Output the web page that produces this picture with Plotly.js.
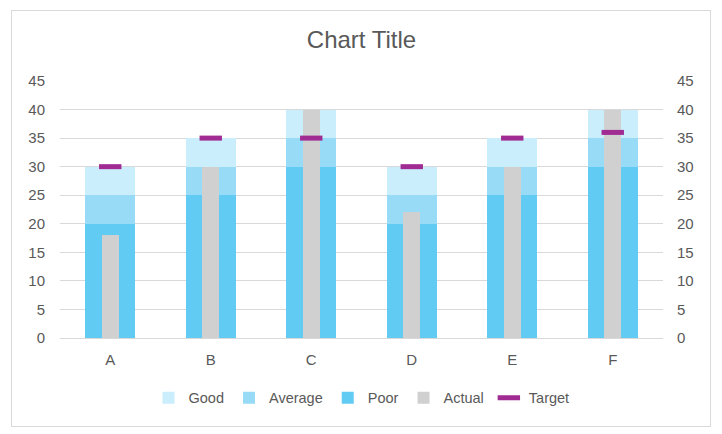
<!DOCTYPE html>
<html><head><meta charset="utf-8">
<script src="https://cdn.plot.ly/plotly-3.0.1.min.js"></script>
<style>
html,body{margin:0;padding:0;background:#fff;}
#wrap{position:relative;width:722px;height:434px;}
#chart{width:722px;height:434px;}
#frame{position:absolute;left:11px;top:10px;width:698px;height:415px;border:1px solid #D9D9D9;pointer-events:none;}
</style></head>
<body>
<div id="wrap"><div id="chart"></div><div id="frame"></div></div>
<script>
const categories = ['A','B','C','D','E','F'];
const poor    = [20, 25, 30, 20, 25, 30];
const average = [5, 5, 5, 5, 5, 5];
const good    = [5, 5, 5, 5, 5, 5];
const actual  = [18, 30, 40, 22, 30, 40];
const target  = [30, 35, 35, 30, 35, 36];

const ff = 'Liberation Sans, Arial, sans-serif';
const font = {family:ff, color:'#595959', size:15};

const traces = [
  {type:'bar', name:'Poor', x:categories, y:poor, marker:{color:'#61CBF3'}, width:0.5, legendrank:3, xaxis:'x', yaxis:'y'},
  {type:'bar', name:'Average', x:categories, y:average, marker:{color:'#97DBF7'}, width:0.5, legendrank:2, xaxis:'x', yaxis:'y'},
  {type:'bar', name:'Good', x:categories, y:good, marker:{color:'#CAEEFB'}, width:0.5, legendrank:1, xaxis:'x', yaxis:'y'},
  {type:'bar', name:'Actual', x:categories, y:actual, marker:{color:'#D0D0D0'}, width:0.17, legendrank:4, xaxis:'x', yaxis:'y2'},
  {type:'scatter', mode:'markers', name:'Target', x:categories, y:target, legendrank:5, xaxis:'x', yaxis:'y2',
   marker:{symbol:'line-ew', size:16, color:'#A02B93', line:{color:'#A02B93', width:5}}}
];

const layout = {
  width:722, height:434,
  margin:{l:60, r:59, t:81, b:96},
  paper_bgcolor:'#fff', plot_bgcolor:'#fff',
  font:font,
  barmode:'stack',
  showlegend:true,
  title:{text:'Chart Title', font:{size:24, color:'#595959', family:ff}, x:0.5, xanchor:'center', xref:'paper', y:1-40/434, yref:'container', yanchor:'middle'},
  xaxis:{type:'category', showgrid:false, showline:true, linecolor:'#D9D9D9', ticks:'', tickfont:font, zeroline:false, ticklabelstandoff:8},
  yaxis:{range:[0,45], dtick:5, tick0:0, showgrid:true, gridcolor:'#D9D9D9', zeroline:true, zerolinecolor:'#D9D9D9', showline:false, ticks:'', tickfont:font, ticklabelstandoff:14},
  yaxis2:{range:[0,45], dtick:5, tick0:0, overlaying:'y', side:'right', showgrid:false, zeroline:false, showline:false, ticks:'', tickfont:font, ticklabelstandoff:13},
  legend:{orientation:'h', x:0.5, xanchor:'center', y:-0.233, yanchor:'middle', font:{size:14.5, color:'#595959', family:ff}, traceorder:'normal', itemwidth:30}
};

Plotly.newPlot('chart', traces, layout, {staticPlot:true, displayModeBar:false});
</script>
</body></html>
